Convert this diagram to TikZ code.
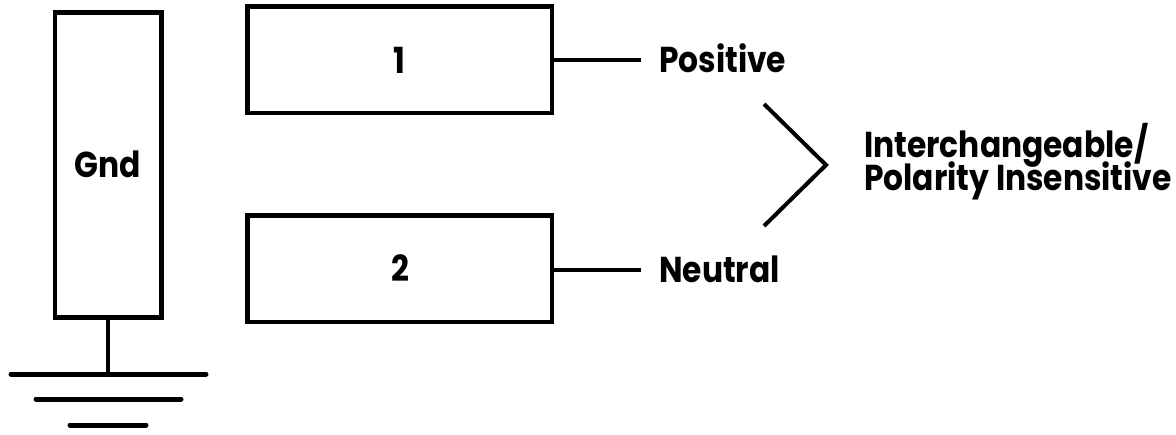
\documentclass[tikz,border=0pt]{standalone}
\usepackage{fontspec}
\setmainfont{Poppins}[FakeStretch=0.87]
\tikzset{
  box/.style={draw, line width=4.5pt, inner sep=0pt},
  wire/.style={line width=4pt},
  gline/.style={line width=5pt, line cap=round},
  lbl/.style={font=\fontsize{36}{36}\selectfont\bfseries, inner sep=0pt},
}
\begin{document}
\begin{tikzpicture}[x=1pt,y=-1pt]
\useasboundingbox (0,0) rectangle (1176,434);
% boxes
\draw[box] (55,12.5) rectangle (161.5,317.5);
\draw[box] (247.5,6.5) rectangle (552,113);
\draw[box] (247.5,215.5) rectangle (552,322);
\node[lbl] (gnd) at (108,164) {Gnd};
\node[lbl] (one) at (399,60) {1};
\node[lbl] (two) at (400,268) {2};
\coordinate (b1r) at (552,60);
\coordinate (b2r) at (552,270);
\coordinate (l1e) at (641,60);
\coordinate (l2e) at (641,270);
\draw[wire] (b1r) -- (l1e);
\draw[wire] (b2r) -- (l2e);
\node[lbl, anchor=base west] (pos) at (659,72) {Positive};
\node[lbl, anchor=base west] (neu) at (659,282) {Neutral};
% bracket
\coordinate (bt) at (764,104);
\coordinate (bv) at (826,165);
\coordinate (bb) at (764,226);
\draw[wire, line join=miter] (bt) -- (bv) -- (bb);
\node[lbl, anchor=base west] (int) at (864,157) {Interchangeable/};
\node[lbl, anchor=base west] (pol) at (864,190) {Polarity Insensitive};
% ground
\coordinate (gs) at (108,317.5);
\coordinate (ge) at (108,374);
\draw[wire] (gs) -- (ge);
\coordinate (g1a) at (11,374); \coordinate (g1b) at (206,374);
\coordinate (g2a) at (36,399); \coordinate (g2b) at (181,399);
\coordinate (g3a) at (70,425); \coordinate (g3b) at (146,425);
\draw[gline] (g1a) -- (g1b);
\draw[gline] (g2a) -- (g2b);
\draw[gline] (g3a) -- (g3b);
\end{tikzpicture}
\end{document}
